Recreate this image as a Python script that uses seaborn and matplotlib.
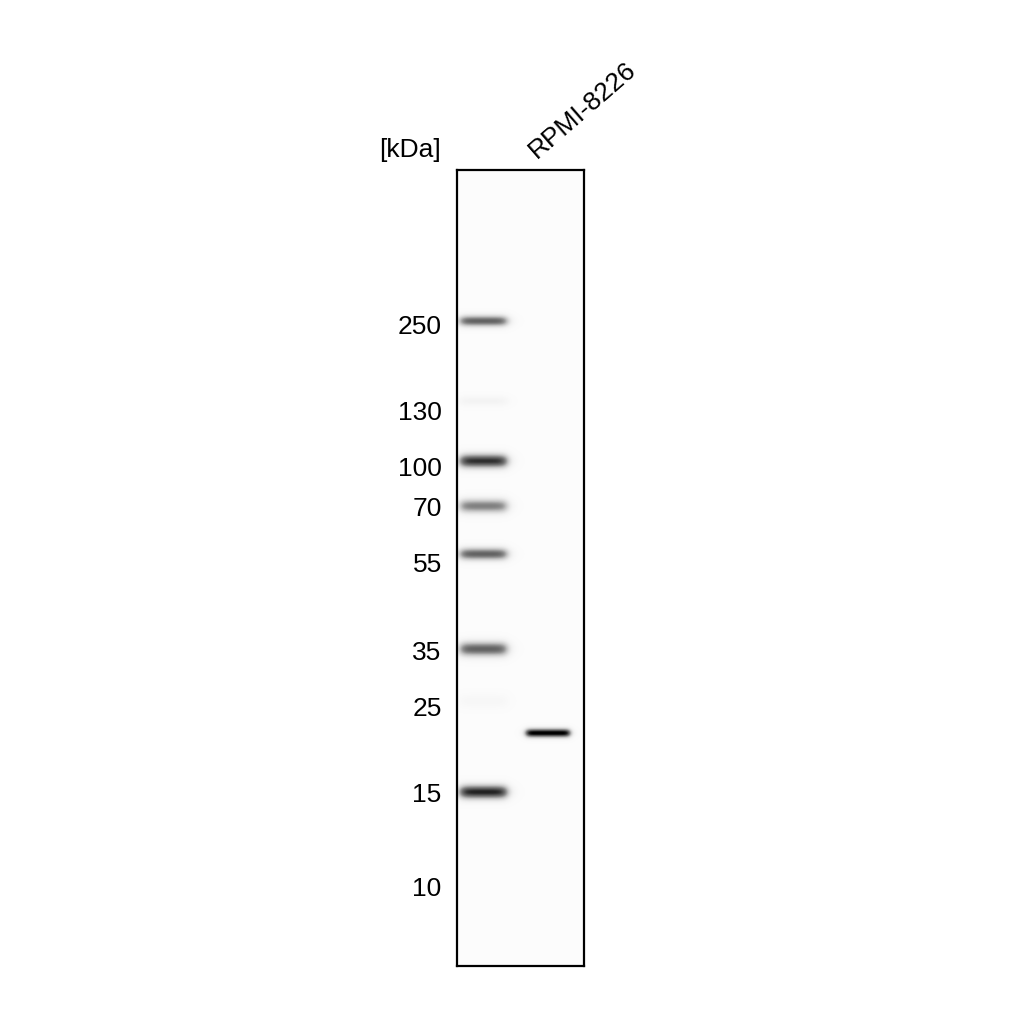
import numpy as np
import pandas as pd
import seaborn as sns
import matplotlib.pyplot as plt

# Western blot: ladder lane + RPMI-8226 lane
marker_labels = ['250', '130', '100', '70', '55', '35', '25', '15', '10']
marker_label_pos = [154, 241, 296, 337, 393, 481, 536, 623, 717]   # rows from top of membrane

# ladder bands (row, strength, thickness)
ladder_rows = [151, 231, 291, 336, 384, 479, 531, 622]
ladder_strength = [0.66, 0.07, 0.82, 0.55, 0.66, 0.66, 0.04, 0.86]
ladder_sigma = [3.8, 3.5, 4.8, 4.8, 4.2, 5.0, 5.0, 4.8]

# sample lane band
sample_rows = [563]
sample_strength = [1.0]
sample_sigma = [3.0]

lane_label = 'RPMI-8226'

n_rows, n_cols = 796, 127
ladder_cols = (3, 50)
sample_cols = (69, 113)
background = 0.03

sns.set_theme(style='white')
plt.rcParams['font.family'] = ['Liberation Sans', 'DejaVu Sans']
plt.rcParams['text.color'] = 'black'
plt.rcParams['ytick.color'] = 'black'

# build membrane intensity grid from the band table
yy, xx = np.mgrid[0:n_rows, 0:n_cols] + 0.5
grid = np.full((n_rows, n_cols), background)


def lane_mask(c0, c1, soft=2.5):
    return 1 / (1 + np.exp(-(xx - c0) / soft)) * 1 / (1 + np.exp((xx - c1) / soft))


ladder_mask = lane_mask(*ladder_cols, soft=2.8)
for r, s, sg in zip(ladder_rows, ladder_strength, ladder_sigma):
    grid += s * np.exp(-0.5 * ((yy - r) / sg) ** 2) * ladder_mask

sample_mask = lane_mask(*sample_cols, soft=1.8)
for r, s, sg in zip(sample_rows, sample_strength, sample_sigma):
    grid += s * np.exp(-0.5 * ((yy - r) / sg) ** 2) * sample_mask

grid = np.clip(grid, 0, 1)
df = pd.DataFrame(grid)

fig = plt.figure(figsize=(10.24, 10.24), dpi=100)
ax = fig.add_axes([457 / 1024, 1 - 966 / 1024, 127 / 1024, 796 / 1024])
sns.heatmap(df, cmap='Greys', vmin=0, vmax=1, cbar=False, ax=ax,
            xticklabels=False, yticklabels=False, rasterized=True)

ax.set_yticks(marker_label_pos)
ax.set_yticklabels(marker_labels, fontsize=19, rotation=0, color='black')
ax.tick_params(axis='y', length=0, pad=11)
ax.set_xticks([])
ax.set_xlabel('')
ax.set_ylabel('')

for sp in ax.spines.values():
    sp.set_visible(True)
    sp.set_color('black')
    sp.set_linewidth(1.6)

fig.text(441 / 1024, 1 - 150 / 1024, '[kDa]', fontsize=19, ha='right', va='center')
fig.text(540 / 1024, 1 - 163 / 1024, lane_label, fontsize=19, rotation=41,
         ha='left', va='bottom', rotation_mode='anchor')

fig.savefig('out.png', dpi=100, facecolor='white')
